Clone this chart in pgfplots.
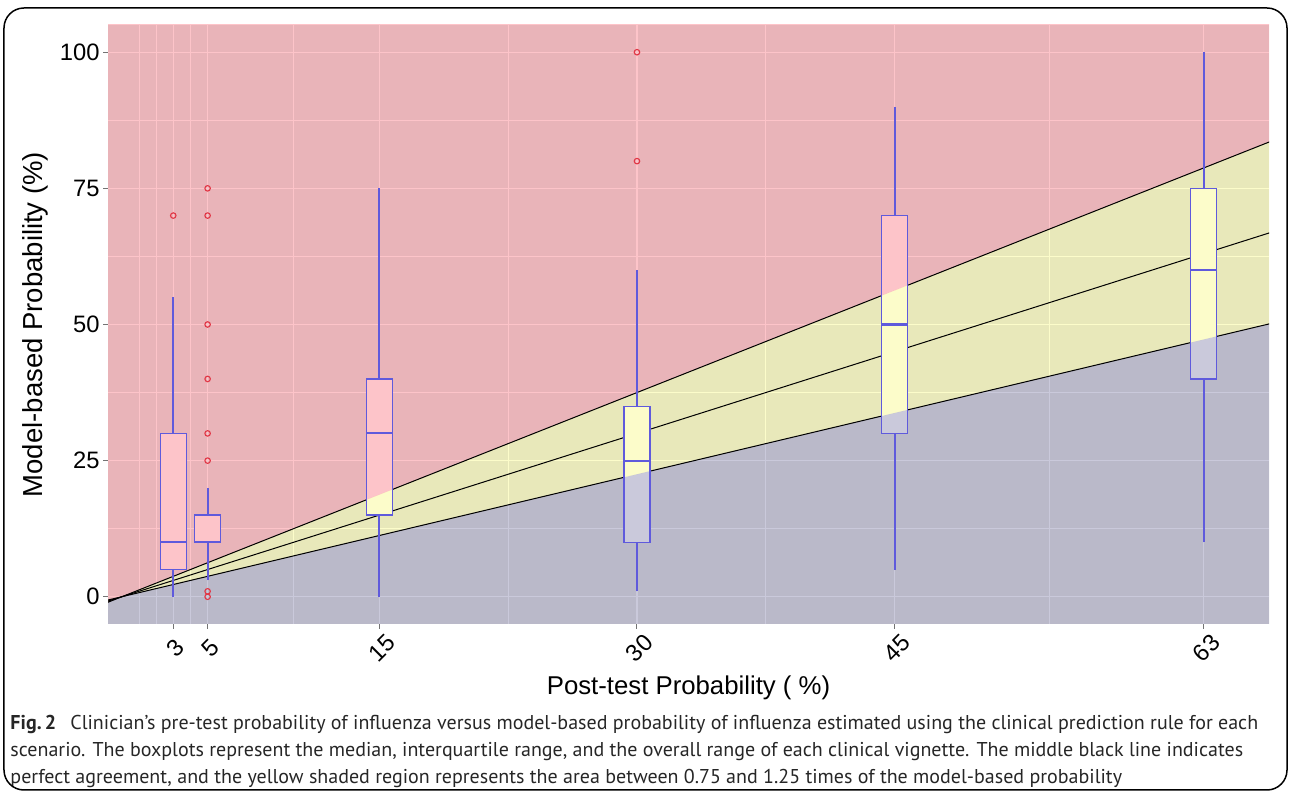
\documentclass[border=0pt]{standalone}
\usepackage{fontspec}
\setmainfont{Liberation Sans}
\newfontfamily\capfont{PT Sans}
\usepackage{pgfplots}
\pgfplotsset{compat=1.18}
\usepgfplotslibrary{statistics}
\definecolor{panel}{RGB}{235,235,235}
\definecolor{ovred}{RGB}{253,196,201}
\definecolor{ovyel}{RGB}{252,252,202}
\definecolor{ovgray}{RGB}{202,201,219}
\definecolor{boxblue}{RGB}{95,90,220}
\definecolor{outred}{RGB}{225,55,70}
\pgfplotsset{
  % pass 1: opaque white box bodies (tinted afterwards by the regions)
  bxfill/.style={draw=none, mark=none,
    boxplot/draw direction=y,
    boxplot/box extend=1.51, boxplot/whisker extend=0,
    boxplot/draw/lower whisker/.code={},
    boxplot/draw/upper whisker/.code={},
    boxplot/draw/median/.code={},
    boxplot/every box/.style={draw=none, fill=white}},
  % pass 2: outlines, medians and outliers
  bx/.style={color=boxblue, line width=0.5pt, mark=o, mark size=1.1pt,
    mark options={draw=outred, line width=0.45pt, fill=none, solid},
    boxplot/draw direction=y,
    boxplot/box extend=1.51, boxplot/whisker extend=0,
    boxplot/draw/lower whisker/.code={},
    boxplot/draw/upper whisker/.code={},
    boxplot/every box/.style={draw=boxblue, line width=0.5pt, fill=none},
    boxplot/every median/.style={draw=boxblue, line width=0.85pt}},
  wh/.style={draw=boxblue, line width=0.75pt, mark=none, unbounded coords=jump},
}
\begin{document}
\begin{tikzpicture}
\begin{axis}[
  set layers,
  scale only axis, width=464.4pt, height=239.6pt,
  at={(0,0)}, anchor=south west,
  xmin=-0.8, xmax=66.8, ymin=-5, ymax=105,
  axis line style={draw=none},
  axis background/.style={fill=panel},
  tick pos=left, tick align=outside,
  major tick length=2pt, minor tick length=0pt,
  every tick/.style={black!55, line width=0.4pt},
  xtick={3,5,15,30,45,63},
  minor xtick={1,2,4,10,22.5,37.5,54},
  ytick={0,25,50,75,100},
  minor ytick={12.5,37.5,62.5,87.5},
  grid=both,
  major grid style={white, line width=0.45pt},
  minor grid style={white, line width=0.25pt},
  /pgf/number format/assume math mode=true,
  tick label style={font=\fontsize{9.5}{11}\selectfont, black},
  yticklabel style={anchor=east, inner sep=0pt, xshift=-1.2pt},
  xticklabel style={anchor=center, inner sep=0pt, yshift=-7.6pt, xshift=1pt, rotate=45},
  xlabel={Post-test Probability ( \%)},
  ylabel={Model-based Probability (\%)},
  xlabel style={at={(axis description cs:0.5,-0.1068)}, anchor=center, font=\fontsize{10.3}{12}\selectfont},
  ylabel style={at={(axis description cs:-0.0629,0.5)}, anchor=center, font=\fontsize{11}{13}\selectfont},
]
% reference lines (0.75x, 1x, 1.25x)
\addplot[black, line width=0.4pt] coordinates {(-2,-2.5) (70,87.5)};
\addplot[black, line width=0.4pt] coordinates {(-2,-2) (70,70)};
\addplot[black, line width=0.4pt] coordinates {(-2,-1.5) (70,52.5)};
% box bodies
\addplot[bxfill, boxplot prepared={draw position=3, median=10, lower quartile=5, upper quartile=30, lower whisker=0, upper whisker=55}] coordinates {};
\addplot[bxfill, boxplot prepared={draw position=5, median=10, lower quartile=10, upper quartile=15, lower whisker=3, upper whisker=20}] coordinates {};
\addplot[bxfill, boxplot prepared={draw position=15, median=30, lower quartile=15, upper quartile=40, lower whisker=0, upper whisker=75}] coordinates {};
\addplot[bxfill, boxplot prepared={draw position=30, median=25, lower quartile=10, upper quartile=35, lower whisker=1, upper whisker=60}] coordinates {};
\addplot[bxfill, boxplot prepared={draw position=45, median=50, lower quartile=30, upper quartile=70, lower whisker=5, upper whisker=90}] coordinates {};
\addplot[bxfill, boxplot prepared={draw position=63, median=60, lower quartile=40, upper quartile=75, lower whisker=10, upper whisker=100}] coordinates {};
% shaded regions (multiplied over everything below)
\addplot[fill=ovred, draw=none, blend mode=multiply] coordinates {(-2,-2.5) (70,87.5) (70,110) (-2,110)} -- cycle;
\addplot[fill=ovyel, draw=none, blend mode=multiply] coordinates {(-2,-2.5) (70,87.5) (70,52.5) (-2,-1.5)} -- cycle;
\addplot[fill=ovgray, draw=none, blend mode=multiply] coordinates {(-2,-1.5) (70,52.5) (70,-10) (-2,-10)} -- cycle;
% whiskers
\addplot[wh] coordinates {(3,0) (3,5) (3,nan) (3,30) (3,55)};
\addplot[wh] coordinates {(5,3) (5,10) (5,nan) (5,15) (5,20)};
\addplot[wh] coordinates {(15,0) (15,15) (15,nan) (15,40) (15,75)};
\addplot[wh] coordinates {(30,1) (30,10) (30,nan) (30,35) (30,60)};
\addplot[wh] coordinates {(45,5) (45,30) (45,nan) (45,70) (45,90)};
\addplot[wh] coordinates {(63,10) (63,40) (63,nan) (63,75) (63,100)};
% box outlines, medians, outliers
\addplot[bx, boxplot prepared={draw position=3, median=10, lower quartile=5, upper quartile=30, lower whisker=0, upper whisker=55}] coordinates {(3,70)};
\addplot[bx, boxplot prepared={draw position=5, median=10, lower quartile=10, upper quartile=15, lower whisker=3, upper whisker=20}] coordinates {(5,75) (5,70) (5,50) (5,40) (5,30) (5,25) (5,1) (5,0)};
\addplot[bx, boxplot prepared={draw position=15, median=30, lower quartile=15, upper quartile=40, lower whisker=0, upper whisker=75}] coordinates {};
\addplot[bx, boxplot prepared={draw position=30, median=25, lower quartile=10, upper quartile=35, lower whisker=1, upper whisker=60}] coordinates {(30,100) (30,80)};
\addplot[bx, boxplot prepared={draw position=45, median=50, lower quartile=30, upper quartile=70, lower whisker=5, upper whisker=90}] coordinates {};
\addplot[bx, boxplot prepared={draw position=63, median=60, lower quartile=40, upper quartile=75, lower whisker=10, upper whisker=100}] coordinates {};
\end{axis}
\node[anchor=north west, inner sep=0pt, align=left, font=\capfont\fontsize{8.0}{10.8}\selectfont, text=black!85] at (-39.2pt,-36.2pt)
 {\textbf{Fig.\,2}\hspace{0.7em}Clinician’s pre-test probability of influenza versus model-based probability of influenza estimated using the clinical prediction rule for each\\
 scenario. The boxplots represent the median, interquartile range, and the overall range of each clinical vignette. The middle black line indicates\\
 perfect agreement, and the yellow shaded region represents the area between 0.75 and 1.25 times of the model-based probability};
\draw[black, line width=0.6pt, rounded corners=8pt] (-41.6pt,-66.4pt) rectangle (471.6pt,246.4pt);
\pgfresetboundingbox
\useasboundingbox (-43.2pt,-68.4pt) rectangle (472.8pt,249.6pt);
\end{tikzpicture}
\end{document}
